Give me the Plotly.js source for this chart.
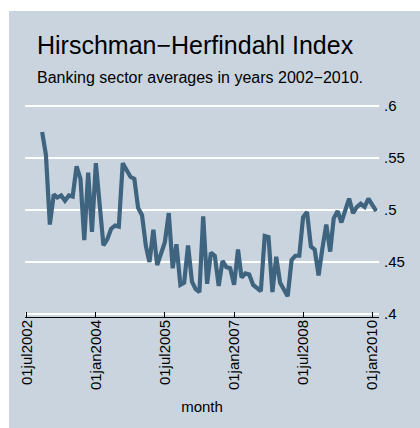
<!DOCTYPE html>
<html>
<head>
<meta charset="utf-8">
<script src="https://cdn.plot.ly/plotly-3.0.1.min.js"></script>
<style>
html,body{margin:0;padding:0;background:#ffffff;width:420px;height:428px;overflow:hidden;}
#chart{position:absolute;left:9px;top:11px;width:411px;height:417px;}
</style>
</head>
<body>
<div id="chart"></div>
<script>
// Monthly averages, Nov 2002 .. Feb 2010
const startYear = 2002, startMonth = 11;
const hhi = [
  0.575, 0.553, 0.486, 0.515, 0.512, 0.514, 0.509, 0.514, 0.513, 0.542,
  0.530, 0.471, 0.536, 0.479, 0.545, 0.507, 0.466, 0.472, 0.482, 0.485,
  0.484, 0.545, 0.539, 0.532, 0.530, 0.502, 0.495, 0.465, 0.450, 0.481,
  0.447, 0.460, 0.469, 0.497, 0.444, 0.467, 0.428, 0.430, 0.466, 0.431,
  0.424, 0.421, 0.494, 0.429, 0.459, 0.456, 0.427, 0.451, 0.445, 0.444,
  0.428, 0.462, 0.435, 0.439, 0.438, 0.428, 0.425, 0.422, 0.475, 0.474,
  0.421, 0.455, 0.430, 0.423, 0.417, 0.452, 0.456, 0.456, 0.493, 0.498,
  0.465, 0.462, 0.437, 0.463, 0.486, 0.460, 0.492, 0.499, 0.488, 0.500,
  0.511, 0.497, 0.503, 0.506, 0.503, 0.511, 0.504, 0.499
];
const xTickVals = ['2002-07-01','2004-01-01','2005-07-01','2007-01-01','2008-07-01','2010-01-01'];
const xTickText = ['01jul2002','01jan2004','01jul2005','01jan2007','01jul2008','01jan2010'];
const yTickVals = [0.4, 0.45, 0.5, 0.55, 0.6];
const yTickText = ['.4', '.45', '.5', '.55', '.6'];
const titleText = 'Hirschman\u2212Herfindahl Index';
const subtitleText = 'Banking sector averages in years 2002\u22122010.';
const xTitle = 'month';

const months = hhi.map((_, i) => {
  const t = (startMonth - 1) + i;
  const y = startYear + Math.floor(t / 12);
  const m = (t % 12) + 1;
  return y + '-' + String(m).padStart(2, '0') + '-01';
});

const bg = '#c9d4df';
const lineCol = '#3e647f';
const font = 'Liberation Sans, Arial, Helvetica, sans-serif';

const trace = {
  x: months, y: hhi, type: 'scatter', mode: 'lines',
  line: {color: lineCol, width: 4.2, shape: 'linear'},
  hoverinfo: 'skip'
};

const layout = {
  width: 411, height: 417,
  paper_bgcolor: bg, plot_bgcolor: bg,
  margin: {l: 16, r: 41, t: 94, b: 111, pad: 0},
  showlegend: false,
  font: {family: font, color: '#000', size: 15},
  xaxis: {
    type: 'date',
    range: ['2002-06-18', '2010-02-23'],
    tickmode: 'array', tickvals: xTickVals, ticktext: xTickText,
    tickangle: -90,
    ticks: 'inside', ticklen: 5, tickwidth: 1, tickcolor: '#000',
    ticklabelstandoff: -4,
    showline: true, linecolor: '#000', linewidth: 1,
    showgrid: false, zeroline: false,
    tickfont: {family: font, size: 15, color: '#000'},
    title: {text: xTitle, font: {family: font, size: 15, color: '#000'}, standoff: 12}
  },
  yaxis: {
    side: 'right',
    range: [0.3971, 0.601],
    tickmode: 'array', tickvals: yTickVals, ticktext: yTickText,
    ticks: 'outside', ticklen: 1, tickcolor: bg,
    showline: false, zeroline: false,
    showgrid: true, gridcolor: '#ffffff', gridwidth: 1.4,
    tickfont: {family: font, size: 15, color: '#000'}
  },
  annotations: [
    {text: titleText, xref: 'paper', yref: 'paper', x: 0.0282, y: 1.284,
     xanchor: 'left', yanchor: 'middle', showarrow: false,
     font: {family: font, size: 25, color: '#000'}},
    {text: subtitleText, xref: 'paper', yref: 'paper', x: 0.0282, y: 1.13,
     xanchor: 'left', yanchor: 'middle', showarrow: false,
     font: {family: font, size: 16, color: '#000'}}
  ]
};

Plotly.newPlot('chart', [trace], layout, {displayModeBar: false, staticPlot: true});
</script>
</body>
</html>
